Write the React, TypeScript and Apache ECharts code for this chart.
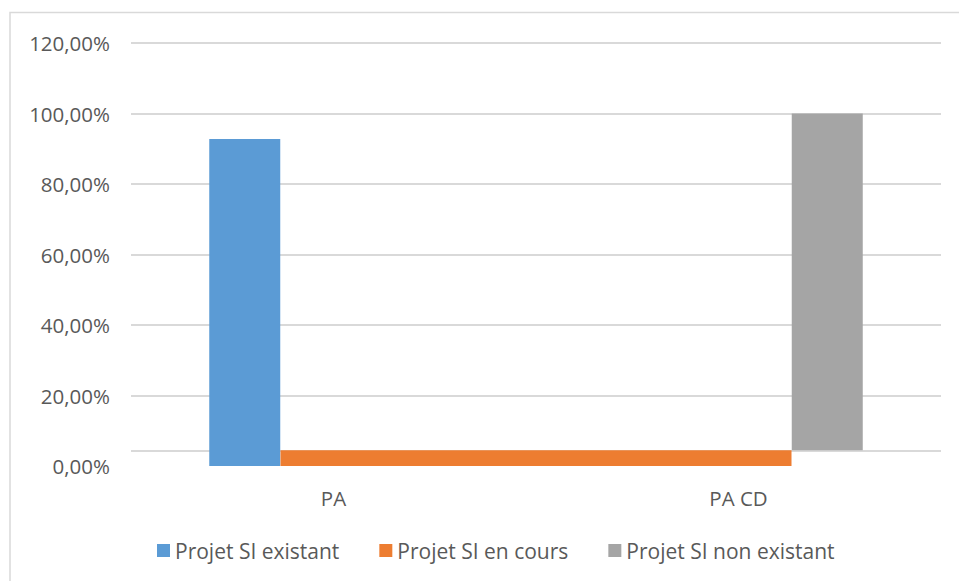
import React, { useEffect, useRef } from "react";
import * as echarts from "echarts";

// ---- data ----
const categories = ["PA", "PA CD"];
const spanCategory = ["PA – PA CD"];
const existant = [92.8, null]; // Projet SI existant
const enCours = [4.5]; // Projet SI en cours (band between the two categories)
const enCoursBase = [null, 4.5]; // level the "non existant" bar starts from
const nonExistant = [null, 95.5]; // Projet SI non existant (stacked up to 100 %)
const axisCross = 4.4; // where the horizontal axis line is drawn
const yTicks = { min: 0, max: 120, interval: 20 };
const legendNames = ["Projet SI existant", "Projet SI en cours", "Projet SI non existant"];

const FONT = "'Open Sans', 'Noto Sans', sans-serif";
const TEXT = "#595959";
const GRID = "#d9d9d9";

export default function App() {
  const ref = useRef<HTMLDivElement>(null);

  useEffect(() => {
    document.body.style.margin = "0";
    const chart = echarts.init(ref.current!, null, { renderer: "svg" });
    const fmt = (v: number) => v.toFixed(2).replace(".", ",") + "%";
    chart.setOption({
      animation: false,
      backgroundColor: "#ffffff",
      textStyle: { fontFamily: FONT },
      graphic: [
        {
          type: "rect",
          shape: { x: 10, y: 12.5, width: 1000, height: 1000 },
          style: { fill: "none", stroke: GRID, lineWidth: 1.5 },
          silent: true,
        },
      ],
      grid: { left: 131, right: 18, top: 43, bottom: 115, containLabel: false },
      legend: {
        data: legendNames,
        left: 157,
        top: 540,
        padding: 0,
        icon: "rect",
        itemWidth: 13,
        itemHeight: 13,
        itemGap: 40,
        textStyle: { fontFamily: FONT, fontSize: 21, color: TEXT },
      },
      xAxis: [
        {
          type: "category",
          data: categories,
          axisLine: { show: false },
          axisTick: { show: false },
          axisLabel: { fontFamily: FONT, fontSize: 20.5, color: TEXT, margin: 21 },
        },
        {
          type: "category",
          data: spanCategory,
          show: false,
        },
      ],
      yAxis: {
        type: "value",
        min: yTicks.min,
        max: yTicks.max,
        interval: yTicks.interval,
        axisLine: { show: false },
        axisTick: { show: false },
        axisLabel: {
          fontFamily: FONT,
          fontSize: 20.5,
          color: TEXT,
          margin: 21,
          formatter: fmt,
        },
        splitLine: {
          lineStyle: {
            width: 2,
            color: ["rgba(0,0,0,0)", GRID, GRID, GRID, GRID, GRID, GRID],
          },
        },
      },
      series: [
        {
          name: legendNames[0],
          type: "bar",
          xAxisIndex: 0,
          stack: "b",
          data: existant,
          barWidth: 71,
          barGap: "150%",
          itemStyle: { color: "#5b9bd5" },
        },
        {
          name: "base",
          type: "bar",
          xAxisIndex: 0,
          stack: "g",
          data: enCoursBase,
          barWidth: 71,
          itemStyle: { color: "rgba(0,0,0,0)" },
          silent: true,
        },
        {
          name: legendNames[2],
          type: "bar",
          xAxisIndex: 0,
          stack: "g",
          data: nonExistant,
          barWidth: 71,
          itemStyle: { color: "#a5a5a5" },
        },
        {
          name: legendNames[1],
          type: "bar",
          xAxisIndex: 1,
          data: enCours,
          barWidth: 511,
          itemStyle: { color: "#ed7d31" },
          z: 3,
          markLine: {
            silent: true,
            symbol: "none",
            z: 1,
            label: { show: false },
            lineStyle: { color: GRID, width: 2, type: "solid" },
            data: [{ yAxis: axisCross }],
          },
        },
      ],
    });
    return () => chart.dispose();
  }, []);

  return (
    <div
      ref={ref}
      style={{ position: "absolute", left: 0, top: 0, width: 959, height: 581 }}
    />
  );
}
